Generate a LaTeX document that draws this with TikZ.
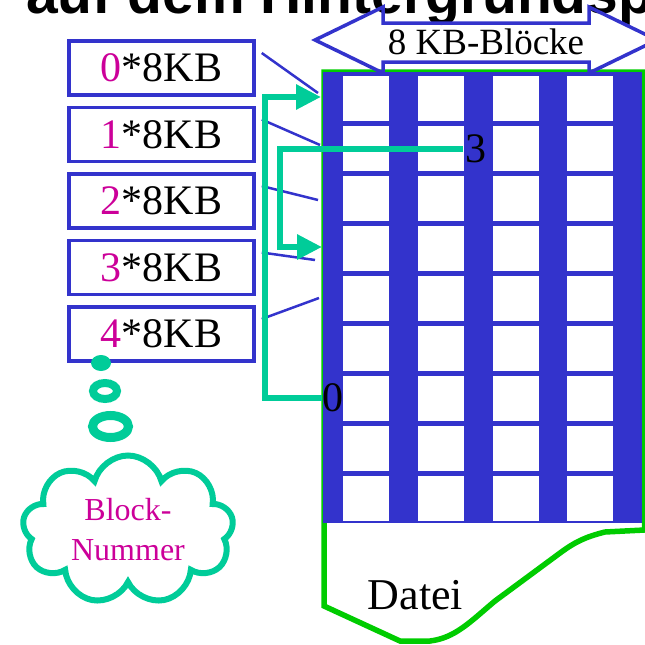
\documentclass[tikz,border=0pt]{standalone}
\usepackage{fontspec}
\setmainfont{Liberation Serif}
\setsansfont{Liberation Sans}
\definecolor{GridBlue}{RGB}{51,51,204}
\definecolor{FileGreen}{RGB}{0,204,0}
\definecolor{PtrTeal}{RGB}{0,204,153}
\definecolor{NumMagenta}{RGB}{204,0,153}
\usetikzlibrary{arrows.meta, shapes.geometric, shapes.symbols, positioning}

\begin{document}
\begin{tikzpicture}[x=1pt, y=-1pt,
                node distance=9pt,
                kbbox/.style={rectangle, draw=GridBlue, line width=3.5pt,
                              minimum width=185pt, minimum height=54pt, inner sep=0pt,
                              font=\fontsize{42}{48}\selectfont},
                mapline/.style={GridBlue, line width=2.5pt},
                ptr/.style={-{Triangle[length=25pt, width=24pt]}, PtrTeal, line width=6pt},
                bubble/.style={ellipse, draw=PtrTeal, inner sep=0pt}
            ]
                \useasboundingbox (0,0) rectangle (645,645);
                \clip (0,0) rectangle (645,645);
                \node[anchor=base west, inner sep=0pt,
                      font=\sffamily\bfseries\fontsize{57}{60}\selectfont] (title) at (26,13) {auf dem Hintergrundspeicher};

                \draw[FileGreen, line width=5.5pt] (324,72) -- (644.5,72) -- (644.5,530) -- (605,532)
                    .. controls (585,537) and (575,542) .. (560,553) -- (495,601)
                    .. controls (470,622) and (455,638) .. (430,641) -- (400,641) -- (324,606) -- cycle;
                \fill[GridBlue] (323,72) rectangle (642,523);
                \foreach \x in {343,418,493,567}
                    \foreach \y in {76,126,...,476}
                        \fill[white] (\x,\y) rectangle ++(45.5,45);
                \node[anchor=base, font=\fontsize{44}{48}\selectfont] (datei) at (415.5,609) {Datei};

                \draw[GridBlue, line width=3.5pt] (315,40) -- (383,7) -- (383,23) -- (589,23) -- (589,7)
                    -- (657,40) -- (589,73) -- (589,62) -- (383,62) -- (383,73) -- cycle;
                \node[anchor=base, font=\fontsize{37}{40}\selectfont] (blocks) at (486,54) {8 KB-Blöcke};

                \node[kbbox] (b0) at (161.5,68) {\textcolor{NumMagenta}{0}*8KB};
                \node[kbbox, below=of b0] (b1) {\textcolor{NumMagenta}{1}*8KB};
                \node[kbbox, below=of b1] (b2) {\textcolor{NumMagenta}{2}*8KB};
                \node[kbbox, below=of b2] (b3) {\textcolor{NumMagenta}{3}*8KB};
                \node[kbbox, below=of b3] (b4) {\textcolor{NumMagenta}{4}*8KB};

                \coordinate (r0) at (318,93);
                \coordinate (r1) at (320,145);
                \coordinate (r2) at (318,200);
                \coordinate (r3) at (315,260);
                \coordinate (r4) at (319,298);
                \foreach \i in {0,...,4}
                    \draw[mapline] ([shift={(6pt,15pt)}]b\i.east) -- (r\i);

                \node[anchor=west, inner sep=0pt, font=\fontsize{42}{48}\selectfont] (lab0) at (322,398) {0};
                \node[anchor=west, inner sep=2pt, font=\fontsize{42}{48}\selectfont] (lab3) at (463,149) {3};
                \coordinate (tip0) at (321,97);
                \coordinate (tip3) at (322,247);
                \draw[ptr] (lab0.west) -- ++(-57,0) |- (tip0);
                \draw[ptr] (lab3.west) -- ++(-183,0) |- (tip3);

                \node[ellipse, fill=PtrTeal, inner sep=0pt, minimum width=20pt, minimum height=16pt] (dot0) at (101,363) {};
                \node[bubble, line width=8pt, minimum width=24pt, minimum height=16pt] (dot1) at (105,391) {};
                \node[bubble, line width=9pt, minimum width=36pt, minimum height=22pt] (dot2) at (110.5,426.5) {};
                \node[cloud, cloud puffs=9, aspect=1.45, inner sep=0pt, draw=PtrTeal, line width=6pt,
                      minimum width=211pt, minimum height=149pt,
                      align=center, text=NumMagenta, font=\fontsize{32}{40}\selectfont] (cloud) at (128,530) {Block-\\Nummer};
            \end{tikzpicture}
\end{document}
